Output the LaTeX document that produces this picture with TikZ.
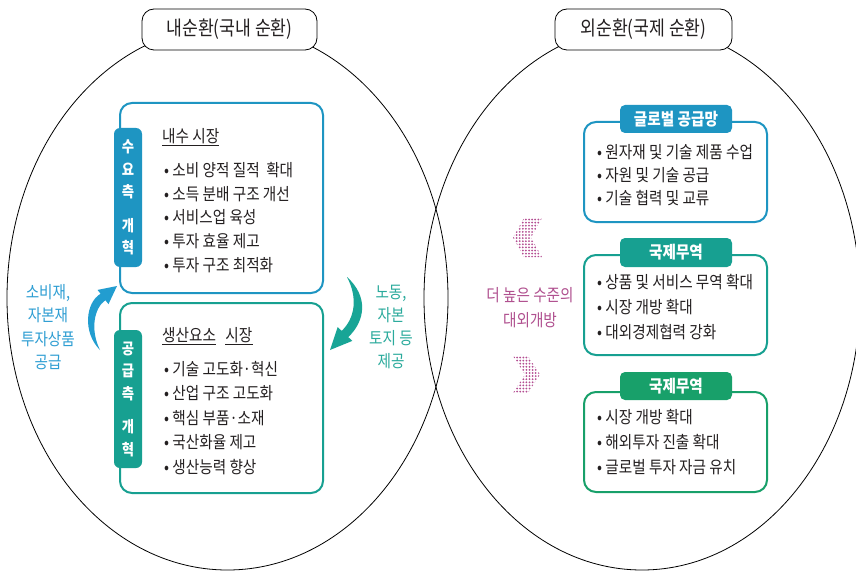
\documentclass[tikz,border=0pt]{standalone}
\usepackage{fontspec}
\newfontfamily\kr[FakeStretch=0.86]{Noto Sans CJK KR}
\definecolor{cblue}{HTML}{1E95C2}
\definecolor{cteal}{HTML}{17A091}
\definecolor{cgreen}{HTML}{18A06A}
\definecolor{ablue}{HTML}{229DD0}
\definecolor{lblue}{HTML}{2E9ED3}
\definecolor{ateal}{HTML}{18A596}
\definecolor{lteal}{HTML}{2AAA9C}
\definecolor{cmag}{HTML}{B0508F}
\definecolor{cdot}{HTML}{B44D92}
\definecolor{ctext}{HTML}{231F20}
\tikzset{
  titlebox/.style={draw=black, line width=0.8pt, fill=white, rounded corners=12pt},
  mainbox/.style={line width=2pt, fill=white, rounded corners=12pt},
  tabbox/.style={rounded corners=6pt},
  hdrbox/.style={rounded corners=5pt},
  bodytxt/.style={anchor=west, inner sep=0pt, text=ctext, font=\kr\fontsize{17}{19}\selectfont},
  headtxt/.style={anchor=west, inner sep=0pt, text=ctext, font=\kr\fontsize{17}{19}\selectfont},
  uline/.style={line width=0.9pt, draw=ctext},
  tabtxt/.style={align=center, inner sep=0pt, text=white, font=\kr\bfseries\fontsize{15.5}{22.5}\selectfont},
  hdrtxt/.style={inner sep=0pt, text=white, font=\kr\bfseries\fontsize{17}{20}\selectfont},
  titletxt/.style={inner sep=0pt, text=ctext, font=\kr\fontsize{20}{24}\selectfont},
  sidelbl/.style={align=center, inner sep=0pt, font=\kr\fontsize{17}{23.3}\selectfont},
}
\begin{document}
\begin{tikzpicture}[x=1pt, y=-1pt]
\useasboundingbox (0,0) rectangle (856,572);
\fill[white] (0,0) rectangle (856,572);
% ellipses
\draw[line width=0.8pt] (227.5,298) ellipse [x radius=220.5pt, y radius=272pt];
\draw[line width=0.8pt] (642,298) ellipse [x radius=218pt, y radius=272pt];
% title boxes
\node[titlebox, minimum width=175pt, minimum height=41pt] (tl) at (229.5,29.5) {};
\node[titletxt] (tlt) at (tl.center) {내순환(국내 순환)};
\node[titlebox, minimum width=177pt, minimum height=41pt] (tr) at (643.5,29.5) {};
\node[titletxt] (trt) at (tr.center) {외순환(국제 순환)};

% left upper box
\node[mainbox, draw=cblue, minimum width=203pt, minimum height=190pt] (dm) at (221.5,198) {};
\node[tabbox, fill=cblue, minimum width=28pt, minimum height=139pt] (dtab) at (128,197.5) {};
\node[tabtxt] (dtabt) at (dtab.center) {수\\요\\측\\[11pt]개\\혁};
\node[headtxt] (dh) at (162,136) {내수 시장};
\draw[uline] ([yshift=-2pt]dh.south west) -- ([yshift=-2pt]dh.south east);
\node[bodytxt] (d1) at (164,170) {• 소비 양적 질적\ \ 확대};
\node[bodytxt] (d2) at (164,193.75) {• 소득 분배 구조 개선};
\node[bodytxt] (d3) at (164,217.5) {• 서비스업 육성};
\node[bodytxt] (d4) at (164,241.25) {• 투자 효율 제고};
\node[bodytxt] (d5) at (164,265) {• 투자 구조 최적화};

% left lower box
\node[mainbox, draw=cteal, minimum width=203pt, minimum height=190pt] (sm) at (221.5,398) {};
\node[tabbox, fill=cteal, minimum width=28pt, minimum height=138pt] (stab) at (128,399) {};
\node[tabtxt] (stabt) at (stab.center) {공\\급\\측\\[11pt]개\\혁};
\node[headtxt] (sh1) at (162,335) {생산요소};
\node[headtxt] (sh2) at ([xshift=9pt]sh1.east) {시장};
\draw[uline] ([yshift=-2pt]sh1.south west) -- ([yshift=-2pt]sh1.south east);
\draw[uline] ([yshift=-2pt]sh2.south west) -- ([yshift=-2pt]sh2.south east);
\node[bodytxt] (s1) at (164,369) {• 기술 고도화·혁신};
\node[bodytxt] (s2) at (164,393.5) {• 산업 구조 고도화};
\node[bodytxt] (s3) at (164,418) {• 핵심 부품·소재};
\node[bodytxt] (s4) at (164,442.5) {• 국산화율 제고};
\node[bodytxt] (s5) at (164,467) {• 생산능력 향상};

% curved arrows
\fill[ablue] (100,350) .. controls (82,332) and (86,302) .. (100.6,293.8)
  -- (97.5,289.9) -- (117,286) -- (108.5,304.1) -- (105.4,300.2)
  .. controls (94,308) and (90,330) .. (100,350) -- cycle;
\fill[ateal] (347,277) .. controls (368,296) and (366,320) .. (348.3,337.1)
  -- (352.3,340.9) -- (330,350) -- (337.7,327.1) -- (341.7,330.9)
  .. controls (355,318) and (358,298) .. (347,277) -- cycle;
\node[sidelbl, text=lblue] (ll) at (48,327) {소비재,\\자본재\\투자상품\\공급};
\node[sidelbl, text=lteal] (rl) at (391,327) {노동,\\자본\\토지 등\\제공};

% right boxes
\node[mainbox, draw=cblue, minimum width=183pt, minimum height=100pt] (g) at (675.5,172) {};
\node[hdrbox, fill=cblue, minimum width=112pt, minimum height=28pt] (gh) at (676,119) {};
\node[hdrtxt] (ght) at (gh.center) {글로벌 공급망};
\node[bodytxt] (g1) at (597,152) {• 원자재 및 기술 제품 수업};
\node[bodytxt] (g2) at (597,175) {• 자원 및 기술 공급};
\node[bodytxt] (g3) at (597,198) {• 기술 협력 및 교류};

\node[mainbox, draw=cteal, minimum width=183pt, minimum height=100pt] (t) at (675.5,305) {};
\node[hdrbox, fill=cteal, minimum width=112pt, minimum height=29pt] (th) at (676,252.5) {};
\node[hdrtxt] (tht) at (th.center) {국제무역};
\node[bodytxt] (t1) at (597,282) {• 상품 및 서비스 무역 확대};
\node[bodytxt] (t2) at (597,307) {• 시장 개방 확대};
\node[bodytxt] (t3) at (597,332) {• 대외경제협력 강화};

\node[mainbox, draw=cgreen, minimum width=183pt, minimum height=100pt] (f) at (675.5,442) {};
\node[hdrbox, fill=cgreen, minimum width=112pt, minimum height=28pt] (fh) at (676,386) {};
\node[hdrtxt] (fht) at (fh.center) {국제무역};
\node[bodytxt] (f1) at (597,417) {• 시장 개방 확대};
\node[bodytxt] (f2) at (597,442) {• 해외투자 진출 확대};
\node[bodytxt] (f3) at (597,467) {• 글로벌 투자 자금 유치};

% dotted chevrons
\begin{scope}
\clip (524,218) -- (542,218) -- (531,237.5) -- (542,257) -- (524,257) -- (513,237.5) -- cycle;
\foreach \i in {0,...,10} \foreach \j in {0,...,12}
  \fill[cdot] (513.5+\i*3.1, 219.5+\j*3.1) circle (1.0pt);
\end{scope}
\begin{scope}
\clip (513,356) -- (528,356) -- (540,374.5) -- (528,393) -- (513,393) -- (525,374.5) -- cycle;
\foreach \i in {0,...,10} \foreach \j in {0,...,12}
  \fill[cdot] (514+\i*3.1, 357.5+\j*3.1) circle (1.0pt);
\end{scope}
\node[sidelbl, text=cmag, font=\kr\fontsize{17}{25}\selectfont] (mt) at (530,307.5) {더 높은 수준의\\대외개방};
\end{tikzpicture}
\end{document}
